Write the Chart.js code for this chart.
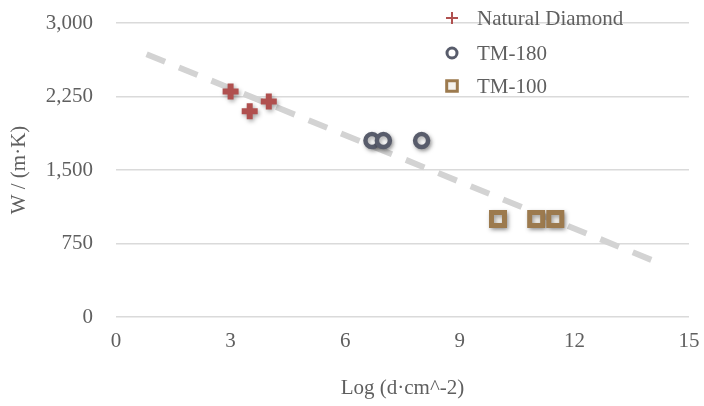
<!DOCTYPE html>
<html>
<head>
<meta charset="utf-8">
<script src="https://cdn.jsdelivr.net/npm/chart.js@4/dist/chart.umd.min.js"></script>
<style>
  html, body { margin: 0; padding: 0; background: #ffffff; }
  #wrap { width: 704px; height: 406px; position: relative; }
</style>
</head>
<body>
<div id="wrap"><canvas id="chart" width="704" height="406"></canvas></div>
<script>
// Thermal conductivity vs. dislocation density
const naturalX = [3, 3.5, 4];
const naturalY = [2300, 2100, 2200];
const tm180X = [6.7, 7, 8];
const tm180Y = [1800, 1800, 1800];
const tm100X = [10, 11, 11.5];
const tm100Y = [1000, 1000, 1000];
const seriesNames = ['Natural Diamond', 'TM-180', 'TM-100'];
const trendExtent = [0.8, 14.2];
const xRange = [0, 15, 3];
const yRange = [0, 3000, 750];

const FONT = "'Liberation Serif', 'DejaVu Serif', serif";
const TEXT = '#5f5f5f';

const pts = (xs, ys) => xs.map((x, i) => ({ x, y: ys[i] }));

// Least-squares linear trend across every measured point
const allX = naturalX.concat(tm180X, tm100X);
const allY = naturalY.concat(tm180Y, tm100Y);
const n = allX.length;
const mx = allX.reduce((a, b) => a + b, 0) / n;
const my = allY.reduce((a, b) => a + b, 0) / n;
let sxy = 0, sxx = 0;
for (let i = 0; i < n; i++) {
  sxy += (allX[i] - mx) * (allY[i] - my);
  sxx += (allX[i] - mx) * (allX[i] - mx);
}
const slope = sxy / sxx;
const intercept = my - slope * mx;
const trendPts = trendExtent.map(x => ({ x, y: intercept + slope * x }));

const styles = [
  { pointStyle: 'cross', color: '#b0504f', radius: 8, width: 6, fill: '#b0504f',
    legend: { radius: 6, width: 2 } },
  { pointStyle: 'circle', color: '#585c6b', radius: 6.5, width: 4.5, fill: '#ffffff',
    legend: { radius: 5, width: 3 } },
  { pointStyle: 'rect', color: '#9c7a4e', radius: 9.2, width: 5, fill: '#f4f2ee',
    legend: { radius: 7.5, width: 3 } }
];

const seriesData = [pts(naturalX, naturalY), pts(tm180X, tm180Y), pts(tm100X, tm100Y)];

const datasets = seriesData.map((d, i) => ({
  label: seriesNames[i],
  data: d,
  pointStyle: styles[i].pointStyle,
  pointRadius: styles[i].radius,
  pointHoverRadius: styles[i].radius,
  pointBorderWidth: styles[i].width,
  pointBorderColor: styles[i].color,
  pointBackgroundColor: styles[i].fill,
  showLine: false,
  shadow: true,
  order: 1
}));

// Dashed trend line, drawn beneath the markers
datasets.push({
  label: 'trend',
  data: trendPts,
  showLine: true,
  borderColor: '#d3d3d3',
  borderWidth: 6,
  borderDash: [20, 15],
  pointRadius: 0,
  pointHoverRadius: 0,
  fill: false,
  order: 2
});

// Soft drop shadow under the markers
const shadowPlugin = {
  id: 'markerShadow',
  beforeDatasetDraw(chart, args) {
    if (!args.meta._dataset.shadow) return;
    const ctx = chart.ctx;
    ctx.save();
    ctx.shadowColor = 'rgba(0,0,0,0.35)';
    ctx.shadowBlur = 4;
    ctx.shadowOffsetX = 1.5;
    ctx.shadowOffsetY = 2;
  },
  afterDatasetDraw(chart, args) {
    if (!args.meta._dataset.shadow) return;
    chart.ctx.restore();
  }
};

// Stacked legend in the upper right corner of the plot
const legendPlugin = {
  id: 'cornerLegend',
  afterDraw(chart) {
    const ctx = chart.ctx;
    const markerX = 452, textX = 477, rows = [18, 53, 86];
    seriesNames.forEach((name, i) => {
      const s = styles[i];
      ctx.save();
      ctx.lineWidth = s.legend.width;
      ctx.strokeStyle = s.color;
      ctx.fillStyle = s.fill;
      Chart.helpers.drawPoint(ctx, {
        pointStyle: s.pointStyle,
        radius: s.legend.radius,
        borderWidth: s.legend.width,
        rotation: 0
      }, markerX, rows[i]);
      ctx.fillStyle = TEXT;
      ctx.font = '21px ' + FONT;
      ctx.textBaseline = 'middle';
      ctx.textAlign = 'left';
      ctx.fillText(name, textX, rows[i] + 1);
      ctx.restore();
    });
  }
};

new Chart(document.getElementById('chart'), {
  type: 'scatter',
  data: { datasets },
  plugins: [shadowPlugin, legendPlugin],
  options: {
    responsive: false,
    animation: false,
    events: [],
    layout: { padding: { top: 23, right: 15, left: 0, bottom: 0 } },
    plugins: {
      legend: { display: false },
      tooltip: { enabled: false }
    },
    scales: {
      x: {
        type: 'linear',
        min: xRange[0],
        max: xRange[1],
        afterFit(scale) {
          scale.height = 89;
          scale.paddingLeft = 0;
          scale.paddingRight = 0;
        },
        ticks: {
          stepSize: xRange[2],
          color: TEXT,
          font: { family: FONT, size: 21 },
          padding: 12
        },
        grid: { display: false, drawTicks: false },
        border: { display: false },
        title: {
          display: true,
          text: 'Log (d·cm^-2)',
          color: TEXT,
          font: { family: FONT, size: 21 },
          padding: { top: 5, bottom: 5 }
        }
      },
      y: {
        type: 'linear',
        min: yRange[0],
        max: yRange[1],
        afterFit(scale) {
          scale.width = 116;
          scale.paddingTop = 0;
          scale.paddingBottom = 0;
        },
        ticks: {
          stepSize: yRange[2],
          color: TEXT,
          font: { family: FONT, size: 21 },
          padding: 23
        },
        grid: { color: '#dadada', lineWidth: 1.5, drawTicks: false, tickLength: 0 },
        border: { display: false },
        title: {
          display: true,
          text: 'W / (m·K)',
          color: TEXT,
          font: { family: FONT, size: 21 },
          padding: { top: 7, bottom: 0 }
        }
      }
    }
  }
});
</script>
</body>
</html>
